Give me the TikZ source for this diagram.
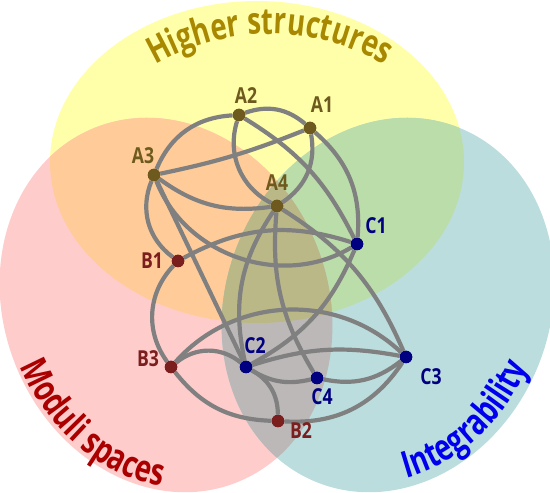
\documentclass[tikz,border=0pt]{standalone}
\usepackage{fontspec}
\newfontfamily\osans{Open Sans}[FakeStretch=0.8]
\newfontfamily\osanscond{Open Sans}[FakeStretch=0.74]
\usetikzlibrary{decorations.text}
\definecolor{cY}{HTML}{FFFFAA}
\definecolor{cP}{HTML}{FFCCCC}
\definecolor{cT}{HTML}{BBDDDD}
\definecolor{cYP}{HTML}{FFCC99}
\definecolor{cYT}{HTML}{BBDDAA}
\definecolor{cPT}{HTML}{BCB8B8}
\definecolor{cYPT}{HTML}{BBB888}
\definecolor{edgegray}{HTML}{808080}
\definecolor{acol}{HTML}{6E5A1E}
\definecolor{bcol}{HTML}{7A1E1E}
\definecolor{ccol}{HTML}{000080}
\definecolor{hstext}{HTML}{A88800}
\definecolor{mstext}{HTML}{AA0000}
\definecolor{intext}{HTML}{0000EE}
\newcommand\fillY[1]{\fill[#1] (257,331) ellipse [x radius=207, y radius=161];}
\newcommand\fillP[1]{\fill[#1, rotate around={22:(166,188)}] (166,188) ellipse [x radius=162, y radius=191];}
\newcommand\fillT[1]{\fill[#1, rotate around={-22:(388,188)}] (388,188) ellipse [x radius=162, y radius=191];}
\newcommand\clipY{\clip (257,331) ellipse [x radius=207, y radius=161];}
\newcommand\clipP{\clip[rotate around={22:(166,188)}] (166,188) ellipse [x radius=162, y radius=191];}
\begin{document}
\begin{tikzpicture}[x=1pt,y=1pt,
  edge/.style={draw=edgegray, line width=4.2pt},
  vtx/.style={circle, inner sep=0pt, minimum size=12.5pt},
  avtx/.style={vtx, fill=acol},
  bvtx/.style={vtx, fill=bcol},
  cvtx/.style={vtx, fill=ccol},
  lbl/.style={inner sep=0pt, font=\osans\bfseries\fontsize{22}{24}\selectfont},
  albl/.style={lbl, text=acol},
  blbl/.style={lbl, text=bcol},
  clbl/.style={lbl, text=ccol},
  titledec/.style={decorate, decoration={text along path, text align=center, text color=#1}}
]
\useasboundingbox (0,0) rectangle (550,493);
\begin{scope}
  \clip (0,0) rectangle (550,493);
  \fillY{cY}
  \fillP{cP}
  \fillT{cT}
  \begin{scope}\clipY \fillP{cYP} \fillT{cYT}\end{scope}
  \begin{scope}\clipP \fillT{cPT}\end{scope}
  \begin{scope}\clipY \clipP \fillT{cYPT}\end{scope}
\end{scope}

% titles
\path[titledec=hstext, decoration={text={|\osanscond\bfseries\fontsize{37}{39}\selectfont|Higher structures}}]
  (270,230) ++(126:229) arc[start angle=126, end angle=54, radius=229];
\path[titledec=mstext, decoration={text={|\osanscond\bfseries\fontsize{37}{39}\selectfont|Moduli spaces}},
  shift={(166,188)}, rotate=22]
  (177:158 and 187) arc[start angle=177, end angle=247, x radius=158, y radius=187];
\path[titledec=intext, decoration={text={|\osanscond\bfseries\fontsize{37}{39}\selectfont|Integrability}},
  shift={(388,188)}, rotate=-22]
  (296:153 and 182) arc[start angle=296, end angle=364, x radius=153, y radius=182];

% vertices
\node[avtx] (A1) at (310,365) {};
\node[avtx] (A2) at (239,378) {};
\node[avtx] (A3) at (154,318) {};
\node[avtx] (A4) at (277,287) {};
\node[bvtx] (B1) at (178,232) {};
\node[bvtx] (B2) at (278,72) {};
\node[bvtx] (B3) at (171,126) {};
\node[cvtx] (C1) at (357,249) {};
\node[cvtx] (C2) at (246,126) {};
\node[cvtx] (C3) at (406,136) {};
\node[cvtx] (C4) at (317,115) {};

% edges
\draw[edge] (A3) to[bend left=32] (A2);
\draw[edge] (A2) to[bend left=30] (A1);
\draw[edge] (A2) to[bend right=40] (A4);
\draw[edge] (A2) to[bend left=16] (C1);
\draw[edge] (A1) to[bend left=27] (C1);
\draw[edge] (A3) to[bend right=5] (A1);
\draw[edge] (A1) to[bend left=33] (A4);
\draw[edge] (A3) to[bend right=22] (A4);
\draw[edge] (A3) to[bend right=38] (B1);
\draw[edge] (A3) -- (C2);
\draw[edge] (A3) to[bend right=50] (C1);
\draw[edge] (A4) to[bend right=23] (C2);
\draw[edge] (A4) to[bend right=18] (C4);
\draw[edge] (A4) to[bend left=17] (C3);
\draw[edge] (B1) to[bend left=23] (C1);
\draw[edge] (B1) to[bend right=40] (B3);
\draw[edge] (B3) to[bend left=46] (C3);
\draw[edge] (B3) to[bend left=40] (C2);
\draw[edge] (B3) to[bend right=25] (B2);
\draw[edge] (C2) to[bend right=19] (C1);
\draw[edge] (C2) to[bend left=14] (C3);
\draw[edge] (C2) to[bend right=22] (C4);
\draw[edge] (C2) to[bend left=30] (B2);
\draw[edge] (C4) to[bend right=25] (C3);
\draw[edge] (C3) to[bend left=30] (B2);

% vertices on top of the edges
\node[avtx] at (A1) {};
\node[avtx] at (A2) {};
\node[avtx] at (A3) {};
\node[avtx] at (A4) {};
\node[bvtx] at (B1) {};
\node[bvtx] at (B2) {};
\node[bvtx] at (B3) {};
\node[cvtx] at (C1) {};
\node[cvtx] at (C2) {};
\node[cvtx] at (C3) {};
\node[cvtx] at (C4) {};

% labels
\node[albl] (lA1) at (322,388) {A1};
\node[albl] (lA2) at (246,397) {A2};
\node[albl] (lA3) at (143,337) {A3};
\node[albl] (lA4) at (277,310) {A4};
\node[blbl] (lB1) at (152,232) {B1};
\node[blbl] (lB2) at (301,62) {B2};
\node[blbl] (lB3) at (148,134) {B3};
\node[clbl] (lC1) at (376,267) {C1};
\node[clbl] (lC2) at (255,147) {C2};
\node[clbl] (lC3) at (431,116) {C3};
\node[clbl] (lC4) at (322,96) {C4};
\end{tikzpicture}
\end{document}
